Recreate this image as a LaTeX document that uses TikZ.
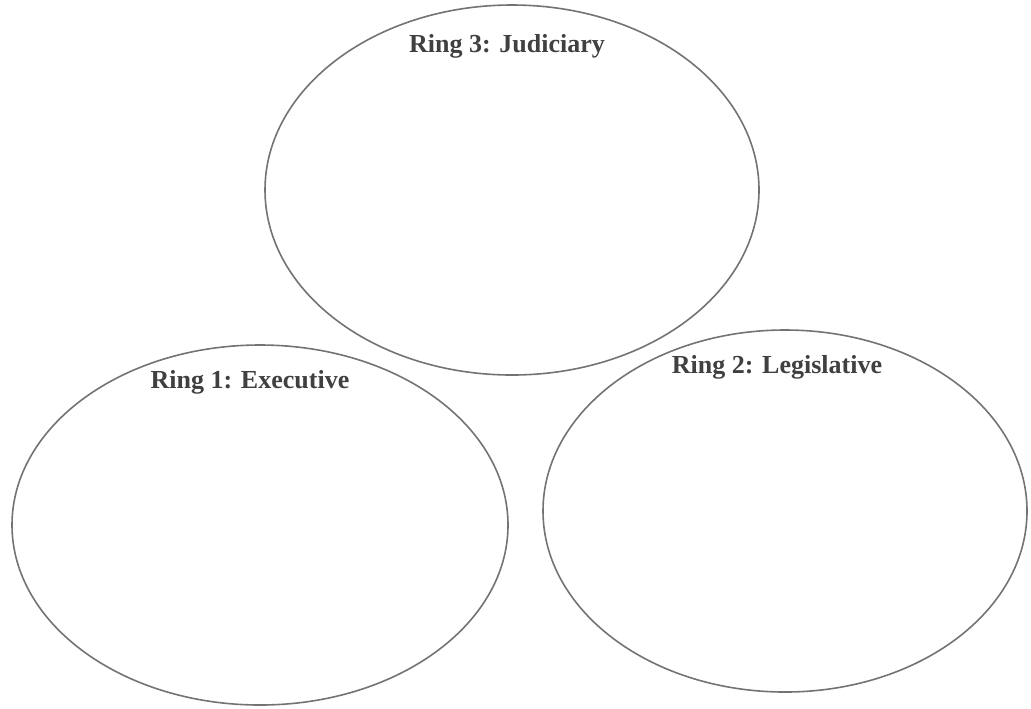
\documentclass[tikz,border=0pt]{standalone}
\usepackage{fontspec}
\setmainfont{Liberation Serif}
\usetikzlibrary{shapes.geometric, positioning}
\tikzset{ring/.style={draw=black!55, line width=0.8pt, ellipse, inner sep=0pt},
ringlabel/.style={font=\fontsize{13}{15}\selectfont\bfseries, text=black!75, inner sep=0pt}}

\begin{document}
\begin{tikzpicture}[x=0.5pt,y=-0.5pt]
\useasboundingbox (0,0) rectangle (1031,708);
\node[ring, minimum width=247pt, minimum height=185pt] (judiciary) at (512,190) {};
\node[ring, minimum width=248pt, minimum height=180pt] (executive) at (260,525) {};
\node[ring, minimum width=242pt, minimum height=181pt] (legislative) at (785,511) {};
\node[ringlabel, below=15pt of judiciary.north, xshift=-2.5pt] (ljud) {Ring 3: Judiciary};
\node[ringlabel, below=13pt of executive.north, xshift=-5pt] (lexe) {Ring 1: Executive};
\node[ringlabel, below=13pt of legislative.north, xshift=-4pt] (lleg) {Ring 2: Legislative};
\end{tikzpicture}
\end{document}
